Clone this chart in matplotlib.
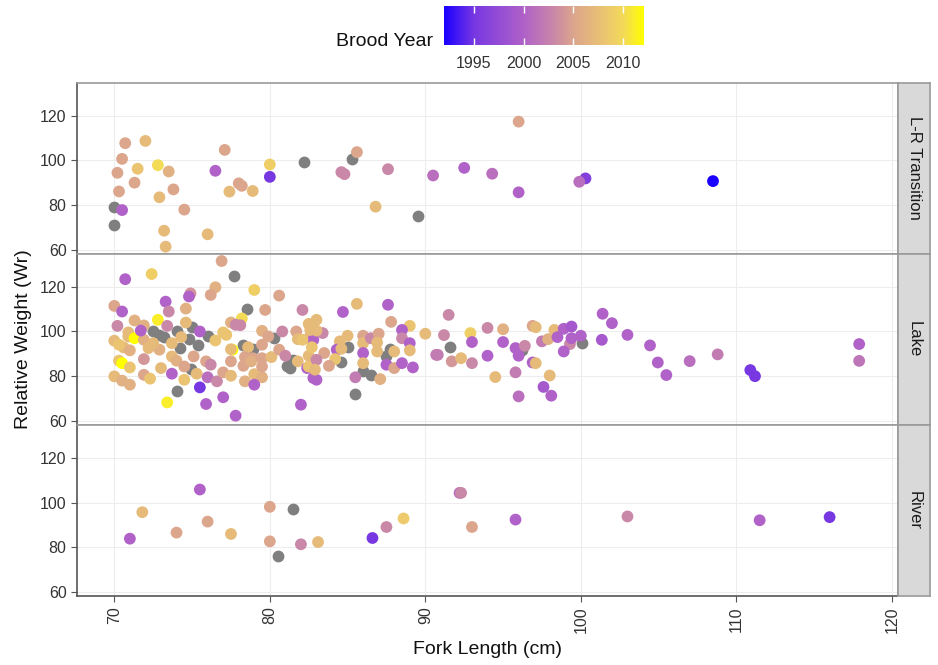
import numpy as np
import matplotlib
matplotlib.use("Agg")
import matplotlib.pyplot as plt
from matplotlib.colors import LinearSegmentedColormap, Normalize

plt.rcParams["font.family"] = ["Liberation Sans", "DejaVu Sans"]

nan = np.nan

# L-R Transition
lr_fl = [70.7, 72.0, 70.5, 70.2, 70.3, 70.0, 70.5, 70.0, 71.5, 72.8, 73.5, 71.3,
         73.8, 72.9, 74.5, 73.2, 73.3, 76.0, 76.5, 77.1, 77.4, 78.0, 78.2, 78.9,
         80.0, 80.0, 82.2, 85.3, 85.6, 84.6, 84.8, 86.8, 87.6, 89.5, 90.5, 92.5,
         94.3, 96.0, 96.0, 100.3, 99.9, 108.5]
lr_wr = [107.7, 108.7, 100.7, 94.5, 86.2, 79.4, 77.9, 71.4, 96.3, 97.9, 95.1, 90.1,
         87.1, 83.6, 78.1, 68.7, 61.6, 67.1, 95.4, 104.7, 86.1, 89.8, 88.7, 86.4,
         98.2, 92.7, 99.3, 100.6, 103.7, 94.8, 93.9, 79.4, 96.1, 75.4, 93.3, 96.7,
         94.1, 117.3, 85.8, 92.0, 90.5, 90.8]
lr_year = [2005, 2007, 2005, 2005, 2005, nan, 2000, nan, 2008, 2010, 2006, 2005,
           2005, 2007, 2005, 2007, 2007, 2007, 2000, 2005, 2007, 2005, 2005, 2007,
           2009, 1995, nan, nan, 2005, 2003, 2003, 2007, 2003, nan, 2001, 2000,
           2001, 2005, 2000, 1996, 2001, 1992]

# Lake
lake_fl = [70.7, 72.4, 76.9, 77.7, 76.5, 76.2, 79.0, 80.6, 74.9, 74.8, 73.3, 73.5,
           74.6, 70.0, 70.5, 78.5, 79.7, 82.1, 78.2, 72.8, 71.3, 71.9, 70.2, 73.4,
           74.6, 75.0, 77.5, 77.8, 78.1, 74.0, 72.5, 72.9, 73.2, 75.5, 76.0, 77.0,
           77.2, 70.9, 70.9, 71.3, 71.9, 70.0, 71.7, 73.7, 74.3, 74.8, 76.5, 79.5,
           79.9, 80.3, 80.8, 81.7, 82.5, 83.0, 81.8, 82.5, 82.8, 78.3, 78.6, 78.9,
           79.5, 77.6, 77.5, 75.4, 74.2, 70.6, 71.0, 70.3, 72.2, 72.9, 72.5, 75.1,
           73.7, 74.0, 71.9, 70.3, 70.5, 71.0, 75.9, 76.2, 74.5, 74.9, 75.3, 73.0,
           71.9, 72.3, 70.0, 70.5, 71.0, 73.7, 74.5, 76.0, 76.6, 77.0, 77.5, 78.3,
           78.4, 79.0, 79.5, 79.0, 78.9, 78.4, 78.8, 79.5, 77.5, 79.5, 80.1, 80.6,
           81.1, 81.3, 81.5, 81.0, 81.8, 82.4, 82.5, 82.5, 82.8, 83.0, 75.5, 74.0,
           73.4, 75.9, 77.0, 77.8, 82.0, 84.7, 85.6, 87.6, 87.8, 89.0, 88.5, 83.4,
           83.0, 82.6, 82.1, 82.7, 85.0, 84.5, 84.3, 84.6, 85.0, 84.6, 84.2, 86.0,
           86.0, 86.0, 86.0, 86.0, 86.5, 85.5, 85.5, 86.5, 87.0, 86.9, 86.9, 87.1,
           87.5, 88.0, 87.7, 87.5, 88.0, 88.5, 89.0, 89.0, 88.5, 89.2, 83.8, 83.5,
           83.0, 82.9, 90.0, 90.7, 90.8, 91.2, 91.5, 91.6, 91.7, 92.3, 92.9, 93.0,
           93.0, 94.0, 94.0, 94.5, 95.0, 95.0, 95.8, 96.0, 96.2, 96.4, 95.8, 96.0,
           96.9, 97.1, 96.9, 97.1, 97.5, 97.9, 98.3, 98.0, 97.6, 98.1, 98.5, 98.9,
           99.4, 99.3, 98.9, 99.4, 100.0, 100.1, 101.4, 102.0, 101.35, 103.0, 104.45, 104.95,
           105.5, 107.0, 108.8, 110.9, 111.2, 117.9, 117.9]
lake_wr = [123.3, 125.6, 131.4, 124.7, 119.7, 116.3, 118.5, 116.0, 117.0, 115.6, 113.3, 108.9,
           110.2, 111.4, 108.9, 109.9, 109.6, 109.6, 105.8, 105.2, 104.9, 102.7, 102.5, 102.5,
           104.0, 101.9, 104.0, 103.0, 102.8, 100.0, 100.3, 98.5, 97.5, 100.0, 97.8, 99.6,
           98.5, 99.6, 97.8, 97.0, 96.3, 95.9, 100.4, 94.8, 97.5, 96.6, 96.0, 100.3,
           97.8, 97.0, 100.0, 100.0, 103.4, 105.2, 96.6, 97.0, 96.3, 94.1, 93.0, 92.3,
           94.1, 91.9, 92.1, 94.1, 92.6, 92.9, 91.6, 94.1, 92.6, 91.9, 94.8, 88.9,
           88.9, 87.0, 87.7, 87.0, 85.9, 84.0, 86.7, 85.2, 84.4, 83.4, 81.2, 83.7,
           80.7, 79.0, 80.0, 78.1, 76.3, 81.2, 78.5, 79.6, 77.8, 81.8, 80.3, 84.7,
           77.8, 81.0, 79.6, 76.3, 88.1, 88.6, 86.7, 88.1, 86.7, 84.4, 88.6, 91.9,
           84.7, 83.7, 87.4, 89.2, 86.7, 83.7, 84.4, 89.2, 79.3, 78.5, 75.1, 73.3,
           68.4, 67.7, 70.7, 62.5, 67.4, 108.7, 112.3, 111.9, 104.3, 102.5, 100.7, 99.3,
           100.4, 100.7, 96.3, 93.0, 98.1, 95.6, 91.9, 92.3, 93.3, 86.4, 87.7, 98.1,
           94.8, 90.4, 85.9, 82.2, 80.7, 79.6, 72.3, 97.0, 99.0, 95.1, 91.1, 78.8,
           85.2, 83.7, 92.1, 89.2, 91.1, 97.0, 94.8, 91.6, 85.9, 84.0, 84.7, 90.4,
           87.4, 83.0, 99.0, 89.6, 89.6, 98.4, 107.4, 93.3, 86.7, 88.1, 99.3, 95.3,
           85.9, 89.2, 101.6, 79.7, 101.0, 95.3, 92.6, 89.2, 91.6, 93.6, 81.8, 71.1,
           102.5, 101.9, 86.2, 85.9, 95.6, 96.6, 100.7, 80.4, 75.3, 71.4, 97.5, 101.2,
           102.2, 94.4, 91.1, 97.0, 98.1, 94.8, 107.9, 103.7, 96.3, 98.5, 93.8, 86.2,
           80.6, 86.8, 89.8, 82.8, 80.1, 94.4, 86.9]
lake_year = [2000, 2009, 2005, nan, 2006, 2005, 2009, 2005, 2004, 2000, 2000, 2003,
             2006, 2005, 2000, nan, 2005, 2003, 2010, 2011, 2006, 2006, 2003, 2003,
             2007, nan, 2006, 2003, 2003, nan, nan, nan, nan, 2000, nan, 2008,
             2008, 2007, 2007, 2012, 2006, 2007, 2000, 2007, 2007, nan, 2008, 2006,
             2005, nan, 2003, 2005, 2007, 2007, 2007, 2006, 2000, nan, 2007, nan,
             2005, 2012, 2007, nan, nan, 2007, 2006, 2008, 2007, 2006, 2007, 2005,
             2007, 2006, 2004, 2008, 2012, 2008, 2005, 2003, 2005, nan, 2007, 2007,
             2005, 2008, 2007, 2006, 2006, 2000, 2008, 2001, 2003, 2005, 2007, 2005,
             2006, 2007, 2006, 2000, 2005, 2005, 2006, 2005, 2005, 2005, 2007, 2005,
             nan, nan, nan, 2003, 2007, 2000, 2008, 2007, 2000, 2000, 1995, nan,
             2011, 2000, 2000, 2000, 2000, 2000, 2007, 2000, 2005, 2008, 2000, 2003,
             2007, 2007, 2008, 2008, 2007, 2007, 2000, 2007, nan, nan, 2008, 2005,
             2007, 2000, 2007, nan, nan, 2002, nan, 2003, 2005, 2007, 2007, 2006,
             2000, 2005, nan, nan, 2007, 2003, 2000, 2007, 2000, 2000, 2005, 2005,
             2003, 2007, 2007, 2002, 2002, 2003, 2003, nan, 2004, 2007, 2009, 2000,
             2003, 2000, 2003, 2007, 2006, 2000, 2000, 2000, nan, 2003, 2002, 2001,
             2005, 2007, 2000, 2007, 2002, 2006, 2007, 2007, 1999, 2000, 2000, 2000,
             1999, 2003, 2000, 2000, 2000, nan, 2000, 2000, 1999, 2000, 2000, 2000,
             2000, 2001, 2002, 1995, 1995, 2000, 2001.5]

# River
river_fl = [71.0, 71.8, 74.0, 75.5, 76.0, 77.5, 80.0, 80.0, 80.5, 81.5, 82.0, 83.1,
            86.6, 87.5, 88.6, 92.2, 92.3, 93.0, 95.8, 103.0, 111.5, 116.0]
river_wr = [83.9, 95.7, 86.6, 105.8, 91.5, 86.0, 98.1, 82.7, 76.0, 97.3, 81.4, 82.4,
            84.2, 89.1, 92.9, 104.3, 104.3, 89.1, 92.4, 93.8, 92.1, 93.5]
river_year = [2000, 2007, 2005, 2000, 2005, 2007, 2005, 2005, nan, nan, 2003, 2007,
              1995, 2003, 2008.5, 2001, 2003, 2005, 2000, 2003, 2000, 1995]

panels = [("L-R Transition", lr_fl, lr_wr, lr_year),
          ("Lake", lake_fl, lake_wr, lake_year),
          ("River", river_fl, river_wr, river_year)]

cmap = LinearSegmentedColormap.from_list("brood", [
    (0.00, "#1a00ff"), (0.15, "#7838e2"), (0.40, "#b062c8"), (0.55, "#ca88a8"),
    (0.65, "#dca68c"), (0.80, "#ebc472"), (0.90, "#f3da58"), (1.00, "#ffff00")])
norm = Normalize(1992, 2012)

fig = plt.figure(figsize=(9.38, 6.65), dpi=100)

left, width = 0.0821, 0.8753
height = 0.2572
bottoms = [0.6183, 0.3611, 0.1039]
border = "#9a9a9a"

for i, (name, fl, wr, yr) in enumerate(panels):
    ax = fig.add_axes([left, bottoms[i], width, height])
    fl = np.array(fl); wr = np.array(wr); yr = np.array(yr, dtype=float)
    na = np.isnan(yr)
    ax.scatter(fl[na], wr[na], s=72, color="#7f7f7f", linewidths=0, zorder=3)
    ax.scatter(fl[~na], wr[~na], s=72, c=yr[~na], cmap=cmap, norm=norm,
               linewidths=0, zorder=3)
    ax.set_xlim(67.6, 120.4)
    ax.set_ylim(58.4, 134.6)
    ax.set_xticks([70, 80, 90, 100, 110, 120])
    ax.set_yticks([60, 80, 100, 120])
    ax.grid(True, color="#ededed", linewidth=0.8, zorder=0)
    ax.set_axisbelow(True)
    for sp in ax.spines.values():
        sp.set_color(border)
        sp.set_linewidth(1.2)
    ax.spines["left"].set_color("#555555")
    ax.tick_params(axis="y", labelsize=11.5, colors="#555555", labelcolor="#333333",
                   length=4, width=0.8)
    if i == 2:
        ax.spines["bottom"].set_color("#555555")
        ax.tick_params(axis="x", labelsize=11.5, colors="#555555", labelcolor="#333333",
                       length=4, width=0.8, labelrotation=90)
        ax.set_xlabel("Fork Length (cm)", fontsize=14, color="#111111", labelpad=6)
    else:
        ax.tick_params(axis="x", length=0, labelbottom=False)

    # facet strip
    sax = fig.add_axes([left + width, bottoms[i], 0.0341, height])
    sax.set_facecolor("#d9d9d9")
    sax.set_xticks([]); sax.set_yticks([])
    for sp in sax.spines.values():
        sp.set_color(border)
        sp.set_linewidth(1.2)
    sax.text(0.5, 0.5, name, rotation=270, ha="center", va="center",
             fontsize=12, color="#1a1a1a", transform=sax.transAxes)

fig.text(0.025, 0.49, "Relative Weight (Wr)", rotation=90, ha="center", va="center",
         fontsize=14, color="#111111")

# colourbar legend
cax = fig.add_axes([0.4733, 0.9323, 0.2122, 0.0586])
grad = np.linspace(1992, 2012, 256).reshape(1, -1)
cax.imshow(grad, aspect="auto", cmap=cmap, norm=norm, extent=[1992, 2012, 0, 1])
cax.set_xlim(1992, 2012)
cax.set_yticks([])
cax.set_xticks([1995, 2000, 2005, 2010])
cax.tick_params(axis="x", direction="in", color="white", length=5, width=1,
                top=True, bottom=True, labelsize=11.5, labelcolor="#333333", pad=8)
for sp in cax.spines.values():
    sp.set_visible(False)
fig.text(0.4616, 0.937, "Brood Year", ha="right", va="center", fontsize=14,
         color="#111111")

fig.savefig("out.png", dpi=100)
